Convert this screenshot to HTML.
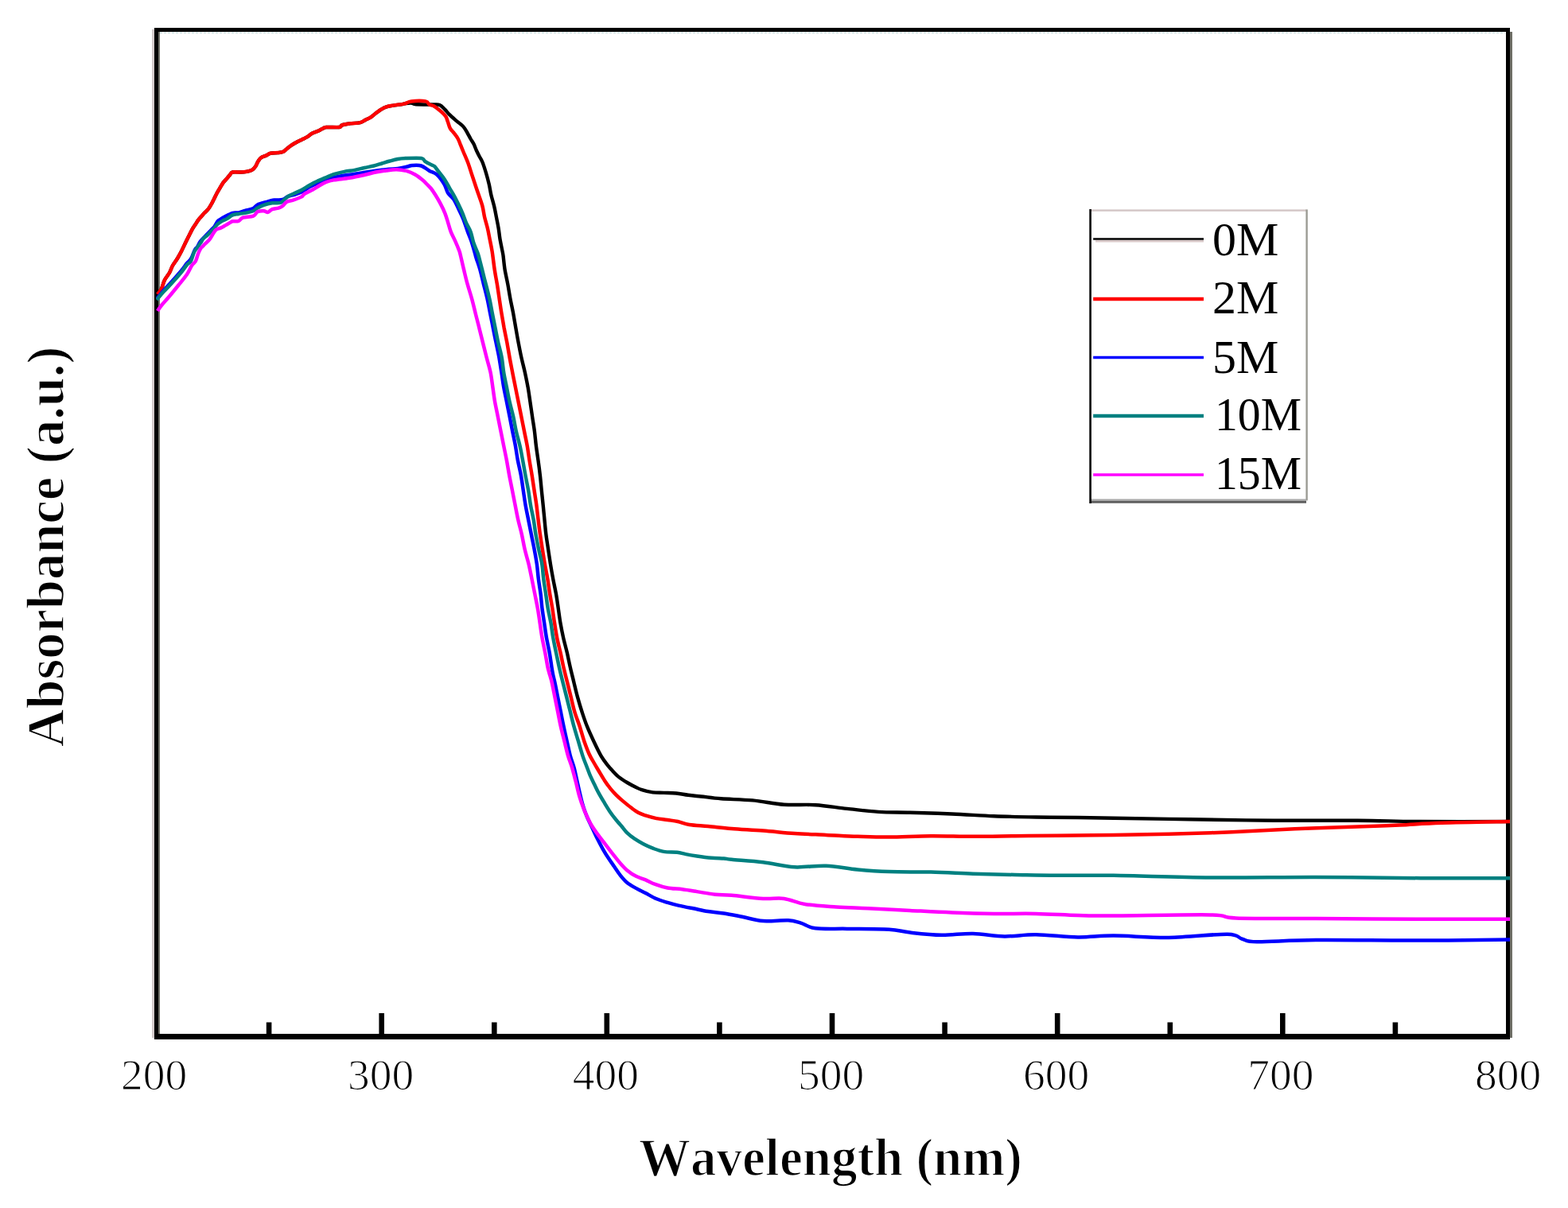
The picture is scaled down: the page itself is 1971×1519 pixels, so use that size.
<!DOCTYPE html>
<html><head><meta charset="utf-8"><title>Absorbance</title>
<style>
html,body{margin:0;padding:0;background:#fff;}
body{width:1971px;height:1519px;overflow:hidden;}
svg{display:block;}
.tick{font-family:"Liberation Serif","Times New Roman",serif;font-size:55.5px;fill:#000;stroke:#fff;stroke-width:1.2px;}
.leg{font-family:"Liberation Serif","Times New Roman",serif;font-size:60px;fill:#000;}
.title{font-family:"Liberation Serif","Times New Roman",serif;font-weight:bold;font-size:68px;fill:#000;font-kerning:none;stroke:#fff;stroke-width:1.6px;}
</style></head>
<body>
<svg width="1971" height="1519" viewBox="0 0 1971 1519">
<rect x="0" y="0" width="1971" height="1519" fill="#fff"/>
<clipPath id="plot"><rect x="196" y="40" width="1702" height="1260"/></clipPath>
<!-- frame side shading -->
<rect x="191" y="37" width="3" height="1268" fill="#d4cccc"/>
<rect x="199" y="40" width="2" height="1260" fill="#6e6e66"/>
<rect x="1898" y="40" width="3" height="1265" fill="#6e6e66"/>
<!-- frame -->
<rect x="194" y="35" width="1704" height="5" fill="#000"/>
<line x1="201" y1="41.2" x2="1892" y2="41.2" stroke="#d6e8e8" stroke-width="2" stroke-dasharray="3 2"/>
<rect x="194" y="35" width="5" height="1272" fill="#000"/>
<rect x="1893" y="35" width="5" height="1272" fill="#000"/>
<rect x="194" y="1300" width="1704" height="7" fill="#000"/>
<g clip-path="url(#plot)">
<path d="M198.0,370.0 C198.8,368.8 201.5,366.0 203.0,363.0 C204.5,360.0 205.3,355.3 207.0,352.0 C208.7,348.7 211.3,346.0 213.0,343.0 C214.7,340.0 215.3,337.0 217.0,334.0 C218.7,331.0 221.2,328.0 223.0,325.0 C224.8,322.0 226.2,319.6 228.0,316.0 C229.8,312.4 232.3,307.0 234.0,303.6 C235.7,300.2 236.6,298.3 237.9,295.7 C239.2,293.1 240.6,290.1 241.9,287.8 C243.2,285.5 244.5,283.9 245.8,281.9 C247.1,279.9 248.5,277.6 249.8,275.9 C251.1,274.2 252.5,272.9 253.7,271.5 C254.9,270.1 255.5,269.3 256.9,267.8 C258.3,266.3 260.6,264.5 262.1,262.5 C263.6,260.5 264.9,258.2 266.1,256.0 C267.3,253.8 268.3,251.6 269.4,249.4 C270.5,247.2 271.5,245.0 272.7,242.8 C273.9,240.6 275.3,238.4 276.6,236.2 C277.9,234.0 279.2,231.6 280.6,229.6 C282.0,227.6 283.8,226.1 285.2,224.4 C286.6,222.8 287.9,221.0 289.1,219.7 C290.3,218.4 290.2,217.0 292.4,216.5 C294.6,216.0 299.4,216.6 302.3,216.5 C305.2,216.4 307.6,216.2 310.0,215.8 C312.4,215.4 314.7,215.0 316.6,213.9 C318.5,212.8 319.9,211.1 321.2,209.2 C322.5,207.3 323.3,204.5 324.5,202.7 C325.7,200.8 326.6,199.3 328.4,198.1 C330.1,196.9 333.1,196.3 335.0,195.4 C336.9,194.5 337.2,193.4 339.6,192.8 C342.0,192.2 346.8,192.4 349.5,192.1 C352.2,191.8 354.2,191.7 356.1,190.8 C358.0,189.9 359.1,188.2 360.7,186.9 C362.3,185.6 364.0,184.2 366.0,182.9 C368.0,181.6 370.3,180.2 372.5,179.0 C374.7,177.8 376.9,176.8 379.1,175.7 C381.3,174.6 383.5,173.7 385.7,172.4 C387.9,171.1 390.1,169.0 392.3,167.8 C394.5,166.6 396.7,166.1 398.9,165.1 C401.1,164.1 403.6,162.7 405.5,161.8 C407.4,161.0 406.5,160.3 410.0,160.0 C413.5,159.7 423.2,160.4 426.5,160.0 C429.8,159.6 427.5,158.2 429.7,157.4 C431.9,156.6 435.8,156.0 439.6,155.4 C443.5,154.8 449.5,154.9 452.8,154.1 C456.1,153.3 457.2,151.9 459.4,150.8 C461.6,149.7 463.8,148.9 466.0,147.5 C468.2,146.1 470.3,144.0 472.5,142.3 C474.7,140.7 476.9,138.9 479.1,137.6 C481.3,136.3 482.9,135.3 485.7,134.4 C488.4,133.5 492.3,133.0 495.6,132.4 C498.9,131.8 503.1,131.5 505.5,131.1 C507.9,130.7 508.1,130.3 510.0,130.0 C511.9,129.7 515.0,129.3 517.0,129.5 C519.0,129.7 518.7,130.7 521.7,131.0 C524.7,131.3 531.1,131.4 535.0,131.5 C538.9,131.6 542.0,131.4 545.0,131.5 C548.0,131.6 550.3,131.0 552.7,132.0 C555.1,133.0 557.2,135.7 559.2,137.6 C561.2,139.5 562.3,141.4 564.5,143.6 C566.7,145.8 570.0,148.7 572.4,150.8 C574.8,152.9 577.1,154.4 579.0,156.1 C580.9,157.8 582.2,158.8 583.6,160.7 C585.0,162.6 586.3,165.0 587.6,167.3 C588.9,169.6 590.2,172.2 591.5,174.5 C592.8,176.8 594.3,178.7 595.5,181.1 C596.7,183.5 597.6,186.4 598.8,189.0 C600.0,191.6 601.2,194.0 602.5,196.5 C603.8,199.0 605.0,200.3 606.4,203.8 C607.8,207.3 609.6,213.0 611.0,217.6 C612.4,222.2 613.6,226.9 614.7,231.5 C615.8,236.1 616.3,240.7 617.4,245.3 C618.5,249.9 620.0,254.5 621.1,259.1 C622.2,263.7 623.0,268.3 623.9,272.9 C624.8,277.5 625.8,282.2 626.6,286.8 C627.4,291.4 627.7,296.0 628.5,300.6 C629.3,305.2 630.5,310.8 631.2,314.4 C631.9,318.0 632.1,318.0 632.6,322.0 C633.1,326.0 633.6,332.6 634.5,338.4 C635.4,344.2 637.1,350.8 638.2,356.9 C639.4,363.0 640.2,369.2 641.4,375.3 C642.5,381.4 644.0,387.6 645.1,393.7 C646.2,399.8 647.2,406.0 648.3,412.2 C649.4,418.4 650.4,424.3 651.6,430.6 C652.8,436.9 654.1,443.7 655.5,450.0 C656.9,456.3 658.5,462.2 659.9,468.4 C661.2,474.5 662.5,480.8 663.6,486.9 C664.7,493.0 665.5,499.2 666.4,505.3 C667.3,511.4 668.2,517.6 669.1,523.7 C670.0,529.9 671.1,536.1 671.9,542.2 C672.7,548.4 673.1,554.5 673.9,560.6 C674.7,566.7 675.6,572.7 676.5,579.0 C677.4,585.3 678.3,592.1 679.0,598.4 C679.7,604.7 680.2,610.8 680.8,616.9 C681.4,623.0 682.1,629.2 682.7,635.3 C683.3,641.4 683.9,647.6 684.5,653.7 C685.1,659.9 685.6,666.1 686.4,672.2 C687.2,678.4 688.2,684.5 689.1,690.6 C690.0,696.7 690.9,702.7 691.9,709.0 C692.9,715.3 694.1,722.1 695.3,728.4 C696.5,734.7 697.9,740.8 699.0,746.9 C700.1,753.0 700.9,759.2 701.8,765.3 C702.7,771.4 703.4,777.6 704.5,783.7 C705.6,789.9 706.8,796.1 708.2,802.2 C709.6,808.4 711.4,814.5 712.8,820.6 C714.2,826.7 715.3,832.7 716.8,839.0 C718.2,845.3 720.0,852.1 721.5,858.4 C723.0,864.7 724.4,870.8 726.1,876.9 C727.8,883.0 729.6,889.2 731.6,895.3 C733.6,901.4 735.6,907.6 738.1,913.7 C740.6,919.9 743.5,926.1 746.4,932.2 C749.3,938.4 752.8,945.7 755.6,950.6 C758.5,955.5 761.1,958.7 763.5,961.8 C765.9,964.9 767.6,966.7 769.9,969.2 C772.2,971.7 774.2,974.1 777.3,976.6 C780.4,979.1 784.8,981.9 788.3,984.0 C791.8,986.1 795.4,988.0 798.5,989.5 C801.6,991.0 803.1,992.1 806.8,993.2 C810.5,994.4 816.0,995.8 820.6,996.4 C825.2,997.0 829.5,996.7 834.4,996.9 C839.3,997.1 844.9,997.0 850.0,997.5 C855.1,998.0 859.8,999.1 865.0,999.8 C870.2,1000.5 874.1,1000.8 881.0,1001.5 C887.9,1002.2 895.6,1003.5 906.4,1004.3 C917.2,1005.1 932.8,1005.2 946.0,1006.4 C959.2,1007.6 972.3,1010.7 985.5,1011.7 C998.7,1012.7 1011.9,1011.3 1025.1,1012.2 C1038.3,1013.1 1051.5,1015.5 1064.7,1016.9 C1077.9,1018.3 1091.1,1020.1 1104.3,1020.9 C1117.5,1021.7 1128.5,1021.3 1143.9,1021.7 C1159.3,1022.1 1179.0,1022.8 1196.6,1023.5 C1214.2,1024.2 1231.8,1025.5 1249.4,1026.2 C1267.0,1026.9 1284.6,1027.2 1302.2,1027.5 C1319.8,1027.8 1338.6,1027.8 1354.9,1028.0 C1371.2,1028.2 1376.6,1028.4 1400.0,1028.8 C1423.4,1029.2 1462.0,1029.8 1495.5,1030.3 C1529.0,1030.8 1565.8,1031.5 1601.0,1031.7 C1636.2,1031.9 1675.8,1031.5 1706.6,1031.7 C1737.4,1031.9 1753.7,1032.8 1785.8,1033.0 C1817.9,1033.2 1880.1,1033.0 1899.0,1033.0" fill="none" stroke="#000000" stroke-width="4.4" stroke-linejoin="round" stroke-linecap="butt"/>
<path d="M198.0,370.0 C198.8,368.8 201.5,366.0 203.0,363.0 C204.5,360.0 205.3,355.3 207.0,352.0 C208.7,348.7 211.3,346.0 213.0,343.0 C214.7,340.0 215.3,337.0 217.0,334.0 C218.7,331.0 221.2,328.0 223.0,325.0 C224.8,322.0 226.2,319.6 228.0,316.0 C229.8,312.4 232.3,307.0 234.0,303.6 C235.7,300.2 236.6,298.3 237.9,295.7 C239.2,293.1 240.6,290.1 241.9,287.8 C243.2,285.5 244.5,283.9 245.8,281.9 C247.1,279.9 248.5,277.6 249.8,275.9 C251.1,274.2 252.5,272.9 253.7,271.5 C254.9,270.1 255.5,269.3 256.9,267.8 C258.3,266.3 260.6,264.5 262.1,262.5 C263.6,260.5 264.9,258.2 266.1,256.0 C267.3,253.8 268.3,251.6 269.4,249.4 C270.5,247.2 271.5,245.0 272.7,242.8 C273.9,240.6 275.3,238.4 276.6,236.2 C277.9,234.0 279.2,231.6 280.6,229.6 C282.0,227.6 283.8,226.1 285.2,224.4 C286.6,222.8 287.9,221.0 289.1,219.7 C290.3,218.4 290.2,217.0 292.4,216.5 C294.6,216.0 299.4,216.6 302.3,216.5 C305.2,216.4 307.6,216.2 310.0,215.8 C312.4,215.4 314.7,215.0 316.6,213.9 C318.5,212.8 319.9,211.1 321.2,209.2 C322.5,207.3 323.3,204.5 324.5,202.7 C325.7,200.8 326.6,199.3 328.4,198.1 C330.1,196.9 333.1,196.3 335.0,195.4 C336.9,194.5 337.2,193.4 339.6,192.8 C342.0,192.2 346.8,192.4 349.5,192.1 C352.2,191.8 354.2,191.7 356.1,190.8 C358.0,189.9 359.1,188.2 360.7,186.9 C362.3,185.6 364.0,184.2 366.0,182.9 C368.0,181.6 370.3,180.2 372.5,179.0 C374.7,177.8 376.9,176.8 379.1,175.7 C381.3,174.6 383.5,173.7 385.7,172.4 C387.9,171.1 390.1,169.0 392.3,167.8 C394.5,166.6 396.7,166.1 398.9,165.1 C401.1,164.1 403.6,162.7 405.5,161.8 C407.4,161.0 406.5,160.3 410.0,160.0 C413.5,159.7 423.2,160.4 426.5,160.0 C429.8,159.6 427.5,158.2 429.7,157.4 C431.9,156.6 435.8,156.0 439.6,155.4 C443.5,154.8 449.5,154.9 452.8,154.1 C456.1,153.3 457.2,151.9 459.4,150.8 C461.6,149.7 463.8,148.9 466.0,147.5 C468.2,146.1 470.3,144.0 472.5,142.3 C474.7,140.7 476.9,138.9 479.1,137.6 C481.3,136.3 482.9,135.3 485.7,134.4 C488.4,133.5 492.3,133.0 495.6,132.4 C498.9,131.8 503.1,131.5 505.5,131.1 C507.9,130.7 508.1,130.6 510.0,130.0 C511.9,129.4 512.8,127.8 517.0,127.4 C521.2,127.0 531.2,126.8 535.0,127.4 C538.8,128.0 537.7,130.1 539.5,131.2 C541.3,132.2 544.0,132.6 546.0,133.7 C548.0,134.8 549.6,136.3 551.3,137.6 C553.0,138.9 554.5,140.0 556.0,141.6 C557.5,143.2 559.5,145.0 560.6,146.9 C561.7,148.8 561.9,150.4 562.8,152.8 C563.7,155.2 564.4,158.9 565.8,161.4 C567.2,163.9 569.5,165.7 571.1,167.9 C572.8,170.1 574.4,172.1 575.7,174.5 C577.0,176.9 577.9,179.7 579.0,182.4 C580.1,185.1 580.8,186.9 582.3,190.5 C583.8,194.1 586.2,199.3 587.9,203.8 C589.6,208.3 591.0,213.0 592.5,217.6 C594.0,222.2 595.6,226.9 597.1,231.5 C598.6,236.1 600.2,240.7 601.8,245.3 C603.3,249.9 605.2,254.5 606.4,259.1 C607.6,263.7 608.0,268.3 609.1,272.9 C610.2,277.5 611.7,282.2 612.8,286.8 C613.9,291.4 614.6,295.7 615.6,300.6 C616.6,305.5 617.6,309.7 618.6,316.0 C619.6,322.3 620.6,331.6 621.6,338.4 C622.6,345.2 623.8,350.8 624.8,356.9 C625.8,363.0 626.7,369.2 627.6,375.3 C628.5,381.4 629.4,387.6 630.4,393.7 C631.4,399.8 632.5,406.0 633.6,412.2 C634.8,418.4 636.1,424.5 637.3,430.6 C638.4,436.7 639.4,442.7 640.5,449.0 C641.6,455.3 643.0,462.1 644.2,468.4 C645.4,474.7 646.7,480.8 647.9,486.9 C649.1,493.0 650.4,499.2 651.6,505.3 C652.8,511.4 654.1,517.6 655.3,523.7 C656.5,529.9 657.8,536.1 659.0,542.2 C660.2,548.4 661.6,554.5 662.7,560.6 C663.8,566.7 664.5,572.7 665.5,579.0 C666.5,585.3 667.8,592.1 668.8,598.4 C669.8,604.7 670.7,610.8 671.6,616.9 C672.5,623.0 673.6,629.2 674.4,635.3 C675.2,641.4 675.8,647.6 676.6,653.7 C677.4,659.9 678.1,666.1 679.0,672.2 C679.9,678.4 680.8,684.5 681.8,690.6 C682.8,696.7 683.7,702.7 684.8,709.0 C685.9,715.3 687.3,722.1 688.4,728.4 C689.5,734.7 690.2,740.8 691.2,746.9 C692.2,753.0 693.4,759.2 694.4,765.3 C695.4,771.4 696.1,777.6 697.1,783.7 C698.1,789.9 699.0,796.1 700.2,802.2 C701.4,808.4 703.1,814.5 704.5,820.6 C705.9,826.7 706.9,832.7 708.4,839.0 C709.9,845.3 711.6,852.1 713.2,858.4 C714.8,864.7 716.3,870.8 717.8,876.9 C719.3,883.0 720.6,889.2 722.4,895.3 C724.2,901.4 726.8,907.6 728.8,913.7 C730.8,919.9 732.4,926.5 734.4,932.2 C736.4,937.9 738.5,943.5 740.5,948.0 C742.5,952.5 744.4,955.3 746.5,959.0 C748.6,962.7 750.8,966.3 753.0,970.0 C755.2,973.7 757.4,977.7 759.8,981.2 C762.1,984.8 764.6,988.2 767.1,991.3 C769.6,994.4 771.7,996.8 774.5,999.6 C777.3,1002.4 780.6,1005.3 783.7,1007.9 C786.8,1010.5 789.8,1013.0 792.9,1015.3 C796.0,1017.6 799.1,1020.1 802.2,1021.8 C805.3,1023.5 807.6,1024.2 811.4,1025.4 C815.2,1026.6 820.6,1028.2 825.2,1029.1 C829.8,1030.0 834.5,1030.3 839.0,1031.0 C843.5,1031.7 847.4,1032.0 852.0,1033.0 C856.6,1034.0 860.2,1036.0 866.5,1037.0 C872.8,1038.0 881.1,1038.2 890.0,1039.0 C898.9,1039.8 908.1,1041.1 919.6,1042.0 C931.1,1042.9 946.0,1043.6 959.2,1044.6 C972.4,1045.6 985.5,1047.2 998.7,1048.1 C1011.9,1049.0 1025.1,1049.3 1038.3,1049.9 C1051.5,1050.5 1064.7,1051.3 1077.9,1051.8 C1091.1,1052.2 1102.1,1052.7 1117.5,1052.6 C1132.9,1052.5 1152.6,1051.3 1170.2,1051.2 C1187.8,1051.1 1205.4,1051.8 1223.0,1051.8 C1240.6,1051.8 1258.2,1051.4 1275.8,1051.2 C1293.4,1051.0 1307.8,1050.9 1328.5,1050.7 C1349.2,1050.5 1376.5,1050.2 1400.0,1049.9 C1423.5,1049.6 1444.5,1049.4 1469.2,1048.8 C1493.9,1048.2 1521.9,1047.3 1548.3,1046.2 C1574.7,1045.1 1601.1,1043.3 1627.5,1042.2 C1653.9,1041.1 1684.6,1040.4 1706.6,1039.6 C1728.6,1038.8 1741.8,1038.3 1759.4,1037.5 C1777.0,1036.7 1788.9,1035.5 1812.2,1034.8 C1835.5,1034.0 1884.5,1033.3 1899.0,1033.0" fill="none" stroke="#ff0000" stroke-width="4.5" stroke-linejoin="round" stroke-linecap="butt"/>
<path d="M197.0,376.0 C198.4,374.2 202.3,369.2 205.5,365.5 C208.7,361.8 212.4,358.0 216.0,354.0 C219.6,350.0 223.8,345.3 227.0,341.5 C230.2,337.7 232.8,333.7 235.0,331.0 C237.2,328.3 238.3,328.3 240.0,325.5 C241.7,322.7 243.7,316.5 245.0,314.0 C246.3,311.5 246.9,312.2 248.0,310.5 C249.1,308.8 250.4,305.7 251.7,303.8 C253.0,301.9 254.5,300.6 256.0,299.0 C257.5,297.4 259.2,295.7 260.8,294.0 C262.4,292.3 264.2,290.5 265.6,289.0 C267.1,287.5 268.2,286.8 269.5,285.0 C270.8,283.2 272.4,279.9 273.5,278.5 C274.6,277.1 274.5,277.4 276.0,276.4 C277.5,275.4 279.8,273.8 282.5,272.4 C285.2,271.0 289.5,268.6 292.4,267.8 C295.3,267.0 297.4,267.9 300.0,267.4 C302.6,266.9 304.8,265.7 307.9,264.8 C311.0,263.9 315.8,263.3 318.4,262.1 C321.0,260.9 321.1,258.7 323.7,257.4 C326.3,256.1 330.7,255.2 334.2,254.2 C337.7,253.2 341.3,252.1 344.8,251.6 C348.3,251.1 352.4,251.8 355.3,251.0 C358.2,250.2 359.4,248.1 362.0,247.0 C364.6,245.9 368.0,245.5 371.0,244.5 C374.0,243.5 377.0,242.6 380.0,241.0 C383.0,239.4 385.7,236.8 389.0,235.0 C392.3,233.2 394.6,232.3 399.7,230.3 C404.8,228.3 411.9,225.0 419.5,223.1 C427.1,221.2 438.2,220.1 445.0,219.0 C451.8,217.9 453.3,217.5 460.0,216.5 C466.7,215.5 478.3,213.9 485.0,213.2 C491.7,212.4 495.5,212.6 500.0,212.0 C504.5,211.4 509.0,210.2 512.0,209.5 C515.0,208.8 515.3,208.2 518.2,208.0 C521.1,207.8 526.0,207.3 529.6,208.5 C533.2,209.7 536.7,213.1 540.0,214.9 C543.3,216.7 546.1,216.7 549.2,219.5 C552.3,222.3 556.1,227.7 558.4,231.5 C560.7,235.3 561.0,239.3 563.0,242.5 C565.0,245.7 568.1,247.3 570.4,250.8 C572.7,254.3 574.9,259.6 576.9,263.7 C578.9,267.8 580.6,271.1 582.4,275.7 C584.2,280.3 586.2,286.8 587.9,291.4 C589.6,296.0 591.0,298.8 592.5,303.4 C594.0,308.0 596.1,315.4 597.1,319.0 C598.1,322.6 597.8,321.8 598.8,325.0 C599.8,328.2 601.7,333.1 603.2,338.4 C604.7,343.7 606.3,350.8 607.8,356.9 C609.3,363.0 611.0,369.2 612.4,375.3 C613.8,381.4 614.9,387.6 616.1,393.7 C617.3,399.8 618.6,406.0 619.8,412.2 C621.0,418.4 622.2,424.5 623.5,430.6 C624.8,436.7 626.1,442.7 627.3,449.0 C628.4,455.3 629.4,462.1 630.4,468.4 C631.4,474.7 632.1,480.8 633.2,486.9 C634.3,493.0 635.7,499.2 636.9,505.3 C638.1,511.4 639.4,517.6 640.6,523.7 C641.8,529.9 643.0,536.1 644.2,542.2 C645.4,548.4 646.8,554.5 647.9,560.6 C649.0,566.7 649.7,572.7 650.9,579.0 C652.1,585.3 653.9,592.1 655.0,598.4 C656.1,604.7 656.9,610.8 657.8,616.9 C658.7,623.0 659.5,629.2 660.6,635.3 C661.7,641.4 663.0,647.6 664.2,653.7 C665.4,659.9 666.7,666.1 667.9,672.2 C669.1,678.4 670.5,684.5 671.6,690.6 C672.8,696.7 673.9,702.7 674.8,709.0 C675.7,715.3 676.1,722.1 676.9,728.4 C677.7,734.7 678.8,740.8 679.6,746.9 C680.4,753.0 680.7,759.2 681.5,765.3 C682.3,771.4 683.3,777.6 684.2,783.7 C685.1,789.9 685.9,796.1 687.0,802.2 C688.1,808.4 689.6,814.5 690.7,820.6 C691.8,826.7 692.7,834.1 693.5,839.0 C694.3,843.9 694.8,846.8 695.5,850.0 C696.2,853.2 696.5,853.9 697.5,858.4 C698.5,862.9 700.0,870.8 701.2,876.9 C702.4,883.0 703.7,889.2 704.9,895.3 C706.1,901.4 707.3,907.6 708.6,913.7 C709.9,919.9 711.3,926.1 712.7,932.2 C714.1,938.4 715.4,945.0 716.9,950.6 C718.4,956.2 720.2,959.8 721.8,966.0 C723.4,972.2 724.9,980.1 726.6,987.6 C728.3,995.1 730.3,1004.2 732.1,1010.7 C733.9,1017.2 735.6,1021.5 737.6,1026.4 C739.6,1031.3 741.9,1035.6 744.1,1040.2 C746.3,1044.8 748.3,1049.4 750.6,1054.0 C752.9,1058.6 755.5,1063.5 757.9,1067.8 C760.3,1072.1 762.9,1076.2 765.3,1079.8 C767.6,1083.4 769.7,1086.2 772.0,1089.5 C774.3,1092.8 776.5,1096.5 779.2,1099.9 C781.9,1103.3 784.9,1107.1 788.4,1110.0 C791.9,1112.9 796.5,1115.2 800.4,1117.4 C804.2,1119.6 807.4,1120.8 811.5,1123.0 C815.6,1125.2 820.7,1128.3 825.3,1130.3 C829.9,1132.3 834.5,1133.5 839.1,1134.9 C843.7,1136.3 847.5,1137.4 852.9,1138.6 C858.3,1139.8 865.2,1141.1 871.4,1142.3 C877.5,1143.5 883.4,1145.0 889.8,1146.0 C896.2,1147.0 902.8,1147.4 910.0,1148.5 C917.2,1149.6 924.6,1151.2 932.8,1152.8 C941.0,1154.4 949.5,1157.3 959.2,1158.1 C968.9,1158.8 982.9,1156.9 990.8,1157.3 C998.7,1157.7 1000.9,1159.0 1006.6,1160.7 C1012.3,1162.4 1015.4,1166.1 1025.1,1167.3 C1034.8,1168.5 1049.3,1167.7 1064.7,1167.9 C1080.1,1168.1 1104.3,1167.9 1117.5,1168.7 C1130.7,1169.5 1132.9,1171.4 1143.9,1172.6 C1154.9,1173.8 1170.2,1175.6 1183.4,1175.8 C1196.6,1176.0 1209.8,1173.6 1223.0,1173.9 C1236.2,1174.2 1249.4,1177.2 1262.6,1177.4 C1275.8,1177.6 1286.8,1175.1 1302.2,1175.3 C1317.6,1175.5 1338.6,1178.2 1354.9,1178.4 C1371.2,1178.6 1381.0,1176.5 1400.0,1176.6 C1419.0,1176.7 1445.4,1179.2 1469.2,1178.9 C1493.0,1178.6 1527.6,1174.4 1543.0,1174.7 C1558.4,1175.0 1555.3,1179.1 1561.5,1180.7 C1567.7,1182.3 1564.6,1184.0 1580.0,1184.2 C1595.4,1184.4 1619.6,1182.4 1653.9,1182.1 C1688.2,1181.8 1745.0,1182.7 1785.8,1182.6 C1826.6,1182.5 1880.1,1181.7 1899.0,1181.5" fill="none" stroke="#0000ff" stroke-width="4.5" stroke-linejoin="round" stroke-linecap="butt"/>
<path d="M197.0,377.0 C198.4,375.3 202.3,370.5 205.5,367.0 C208.7,363.5 212.4,359.9 216.0,356.0 C219.6,352.1 223.8,347.3 227.0,343.5 C230.2,339.7 232.8,335.5 235.0,333.0 C237.2,330.5 238.4,331.1 239.9,328.5 C241.4,325.9 242.5,320.2 243.8,317.4 C245.1,314.6 246.4,313.5 247.8,311.5 C249.2,309.5 250.8,307.5 252.1,305.6 C253.4,303.7 254.2,301.6 255.7,300.0 C257.1,298.4 259.1,297.3 260.8,295.7 C262.5,294.1 264.2,292.1 265.6,290.6 C267.1,289.1 268.2,288.1 269.5,286.6 C270.8,285.2 271.9,283.3 273.5,281.9 C275.1,280.4 277.4,279.0 279.4,277.9 C281.4,276.8 283.1,276.4 285.3,275.1 C287.5,273.9 289.9,271.4 292.4,270.4 C294.8,269.4 297.0,269.5 300.0,269.0 C303.0,268.5 307.4,268.0 310.5,267.4 C313.6,266.8 316.2,266.3 318.4,265.3 C320.6,264.3 321.5,262.8 323.7,261.6 C325.9,260.4 328.5,258.9 331.6,257.9 C334.7,256.8 338.6,255.8 342.1,255.3 C345.6,254.8 350.1,255.6 352.7,254.8 C355.3,254.0 356.1,251.9 357.9,250.5 C359.6,249.1 361.0,247.6 363.2,246.3 C365.4,245.0 368.5,243.8 371.1,242.6 C373.7,241.4 376.0,240.6 379.0,239.0 C382.0,237.4 385.7,234.9 389.0,233.0 C392.3,231.1 395.6,229.2 398.9,227.7 C402.2,226.1 405.3,225.1 408.7,223.7 C412.1,222.3 415.5,220.5 419.5,219.2 C423.5,217.9 428.3,216.8 432.7,215.9 C437.1,215.0 441.6,214.7 445.8,213.9 C450.0,213.1 454.0,211.9 458.0,211.0 C462.0,210.1 466.3,209.4 470.0,208.5 C473.7,207.6 476.7,206.5 480.0,205.5 C483.3,204.5 486.7,203.4 490.0,202.5 C493.3,201.6 496.7,200.6 500.0,200.0 C503.3,199.4 505.1,199.2 510.0,199.0 C514.9,198.8 525.6,198.3 529.6,198.9 C533.6,199.5 532.3,201.5 534.2,202.8 C536.1,204.1 538.8,205.6 540.8,206.6 C542.8,207.6 544.6,207.9 546.0,209.0 C547.4,210.1 547.1,210.3 549.2,213.0 C551.3,215.7 555.8,221.2 558.4,225.0 C561.0,228.8 562.8,232.4 564.9,236.1 C567.0,239.8 569.3,243.4 571.3,247.1 C573.3,250.8 575.2,254.7 576.9,258.2 C578.6,261.7 580.0,264.6 581.5,268.3 C583.0,272.0 584.4,276.5 586.1,280.3 C587.8,284.1 590.1,287.2 591.6,291.4 C593.1,295.5 593.8,300.6 595.3,305.2 C596.8,309.8 599.4,314.9 600.8,319.0 C602.2,323.1 602.9,326.8 603.8,330.0 C604.6,333.2 604.8,333.9 605.9,338.4 C607.0,342.9 609.0,350.8 610.6,356.9 C612.2,363.0 613.8,369.2 615.2,375.3 C616.6,381.4 617.6,387.6 618.8,393.7 C620.0,399.8 621.3,406.0 622.5,412.2 C623.7,418.4 624.9,424.5 626.2,430.6 C627.6,436.7 629.4,442.7 630.6,449.0 C631.8,455.3 632.2,462.1 633.2,468.4 C634.2,474.7 635.7,480.8 636.9,486.9 C638.1,493.0 639.2,499.2 640.6,505.3 C642.0,511.4 643.8,517.6 645.2,523.7 C646.6,529.9 647.4,536.1 648.8,542.2 C650.2,548.4 652.1,554.5 653.5,560.6 C654.9,566.7 655.9,572.7 657.1,579.0 C658.3,585.3 659.4,592.1 660.6,598.4 C661.8,604.7 663.1,610.8 664.2,616.9 C665.3,623.0 665.9,629.2 667.0,635.3 C668.1,641.4 669.6,647.6 670.7,653.7 C671.8,659.9 672.4,666.1 673.5,672.2 C674.6,678.4 675.8,684.5 677.1,690.6 C678.4,696.7 680.2,702.7 681.2,709.0 C682.2,715.3 682.5,722.1 683.3,728.4 C684.1,734.7 685.2,740.8 686.1,746.9 C687.0,753.0 687.7,759.2 688.8,765.3 C689.9,771.4 691.4,777.6 692.5,783.7 C693.6,789.9 694.2,796.1 695.3,802.2 C696.4,808.4 697.7,814.5 699.0,820.6 C700.3,826.7 701.5,832.7 702.9,839.0 C704.3,845.3 706.0,852.1 707.6,858.4 C709.2,864.7 710.8,870.8 712.3,876.9 C713.8,883.0 715.4,889.2 716.9,895.3 C718.4,901.4 719.8,907.6 721.5,913.7 C723.2,919.9 725.2,926.1 727.0,932.2 C728.8,938.4 730.9,945.7 732.5,950.6 C734.1,955.5 735.2,957.9 736.7,961.8 C738.2,965.7 739.6,969.8 741.3,973.8 C743.0,977.8 745.0,981.9 746.9,985.8 C748.8,989.6 750.4,993.2 752.4,996.9 C754.4,1000.6 756.5,1004.1 758.8,1007.9 C761.1,1011.7 763.6,1016.0 766.2,1019.9 C768.8,1023.8 772.0,1027.9 774.5,1031.0 C777.0,1034.1 778.7,1035.8 781.0,1038.5 C783.3,1041.2 785.6,1044.7 788.4,1047.4 C791.2,1050.1 794.2,1052.4 797.6,1054.7 C801.0,1057.0 804.9,1059.2 808.7,1061.2 C812.6,1063.2 816.4,1065.1 820.7,1066.7 C825.0,1068.3 829.4,1070.1 834.5,1070.9 C839.6,1071.8 846.5,1071.3 851.1,1071.8 C855.7,1072.3 858.1,1073.3 862.2,1074.1 C866.4,1074.9 870.6,1075.6 876.0,1076.4 C881.4,1077.2 888.7,1078.2 894.4,1078.7 C900.1,1079.2 905.8,1079.2 910.0,1079.5 C914.2,1079.8 911.4,1080.0 919.6,1080.8 C927.8,1081.6 946.0,1082.6 959.2,1084.2 C972.4,1085.8 985.5,1089.5 998.7,1090.3 C1011.9,1091.0 1025.1,1088.2 1038.3,1088.7 C1051.5,1089.2 1064.7,1092.3 1077.9,1093.5 C1091.1,1094.7 1102.1,1095.6 1117.5,1096.1 C1132.9,1096.6 1152.6,1096.2 1170.2,1096.6 C1187.8,1097.0 1205.4,1098.1 1223.0,1098.7 C1240.6,1099.3 1258.2,1099.7 1275.8,1100.0 C1293.4,1100.3 1307.8,1100.7 1328.5,1100.8 C1349.2,1100.9 1367.8,1100.4 1400.0,1100.8 C1432.2,1101.2 1479.6,1103.1 1521.9,1103.4 C1564.2,1103.8 1609.9,1102.8 1653.9,1102.9 C1697.9,1103.0 1745.0,1104.0 1785.8,1104.2 C1826.6,1104.4 1880.1,1104.2 1899.0,1104.2" fill="none" stroke="#008080" stroke-width="4.5" stroke-linejoin="round" stroke-linecap="butt"/>
<path d="M198.0,391.0 C198.8,389.8 200.5,387.1 203.0,384.0 C205.5,380.9 209.5,376.7 213.0,372.5 C216.5,368.3 220.3,363.6 224.0,359.0 C227.7,354.4 232.2,349.2 235.0,345.0 C237.8,340.8 239.2,336.8 241.0,334.0 C242.8,331.2 244.5,330.9 245.8,328.5 C247.1,326.1 247.9,322.0 249.0,319.4 C250.1,316.8 250.7,314.8 252.1,312.7 C253.5,310.6 255.8,308.8 257.7,306.8 C259.6,304.8 262.0,302.9 263.6,300.8 C265.2,298.8 266.2,296.5 267.5,294.5 C268.8,292.5 269.9,290.3 271.5,289.0 C273.1,287.7 275.4,287.5 277.4,286.6 C279.4,285.7 281.4,284.5 283.4,283.4 C285.4,282.3 287.8,280.8 289.3,279.9 C290.8,279.0 290.6,278.6 292.4,278.3 C294.2,278.0 297.9,278.7 300.0,277.9 C302.1,277.1 302.2,274.8 305.3,273.7 C308.4,272.6 315.3,272.8 318.4,271.6 C321.5,270.4 321.5,267.4 323.7,266.3 C325.9,265.2 329.4,265.2 331.6,265.3 C333.8,265.4 335.1,267.2 336.9,266.9 C338.6,266.5 339.9,264.1 342.1,263.2 C344.3,262.3 347.8,262.3 350.0,261.6 C352.2,260.9 353.5,260.3 355.3,259.0 C357.1,257.7 358.4,254.9 360.6,253.7 C362.8,252.5 365.4,252.6 368.5,251.6 C371.6,250.6 376.7,248.7 379.0,247.4 C381.3,246.2 380.2,245.5 382.4,244.1 C384.6,242.7 389.0,240.8 392.3,238.9 C395.6,237.1 399.2,234.7 402.2,233.0 C405.1,231.3 407.1,230.1 410.0,229.0 C412.9,227.9 414.6,227.3 419.5,226.4 C424.4,225.5 432.6,224.9 439.2,223.8 C445.8,222.7 453.5,221.0 459.0,219.8 C464.5,218.6 467.8,217.4 472.2,216.5 C476.6,215.6 480.9,215.1 485.3,214.5 C489.7,213.9 494.1,213.1 498.5,213.2 C502.9,213.3 507.8,214.1 511.7,215.2 C515.6,216.3 518.9,217.9 522.2,219.8 C525.5,221.7 529.0,224.5 531.4,226.4 C533.8,228.3 534.8,229.7 536.5,231.5 C538.2,233.3 540.0,234.7 541.8,237.0 C543.6,239.3 545.4,242.1 547.4,245.3 C549.4,248.5 551.8,252.6 553.8,256.4 C555.8,260.2 557.9,264.5 559.4,268.3 C560.9,272.1 561.8,275.5 563.0,279.4 C564.2,283.2 565.2,287.4 566.7,291.4 C568.2,295.4 570.6,299.6 572.3,303.4 C574.0,307.2 575.8,311.6 576.9,314.4 C578.0,317.2 577.6,316.0 578.6,320.0 C579.6,324.0 581.4,332.2 582.9,338.4 C584.4,344.5 585.8,350.8 587.5,356.9 C589.2,363.0 591.3,369.2 593.0,375.3 C594.7,381.4 596.1,387.6 597.6,393.7 C599.1,399.8 600.8,406.0 602.3,412.2 C603.8,418.4 605.4,424.5 606.9,430.6 C608.4,436.7 609.9,442.7 611.5,449.0 C613.1,455.3 615.3,462.1 616.6,468.4 C617.9,474.7 618.5,480.8 619.4,486.9 C620.3,493.0 621.0,499.2 622.1,505.3 C623.2,511.4 624.6,517.6 625.8,523.7 C627.0,529.9 628.3,536.1 629.5,542.2 C630.7,548.4 632.0,554.5 633.2,560.6 C634.4,566.7 635.7,572.7 636.9,579.0 C638.1,585.3 639.1,592.1 640.3,598.4 C641.5,604.7 642.8,610.8 644.0,616.9 C645.2,623.0 646.4,629.2 647.6,635.3 C648.8,641.4 649.9,647.6 651.3,653.7 C652.7,659.9 654.5,666.1 655.9,672.2 C657.3,678.4 658.2,684.5 659.6,690.6 C661.0,696.7 663.0,702.7 664.5,709.0 C666.0,715.3 667.3,722.1 668.6,728.4 C669.9,734.7 671.1,740.8 672.3,746.9 C673.5,753.0 674.8,759.2 675.9,765.3 C677.0,771.4 677.8,777.6 678.7,783.7 C679.6,789.9 680.4,796.1 681.5,802.2 C682.6,808.4 684.0,814.5 685.2,820.6 C686.4,826.7 687.5,834.1 688.5,839.0 C689.5,843.9 690.6,846.8 691.5,850.0 C692.4,853.2 692.8,853.9 693.8,858.4 C694.8,862.9 696.3,870.8 697.5,876.9 C698.7,883.0 700.0,889.2 701.2,895.3 C702.4,901.4 703.5,907.6 704.9,913.7 C706.3,919.9 708.0,926.1 709.5,932.2 C711.0,938.4 712.5,945.1 714.1,950.6 C715.7,956.1 717.4,959.6 719.0,965.0 C720.6,970.4 722.2,976.9 723.8,983.0 C725.4,989.1 726.5,995.4 728.4,1001.5 C730.2,1007.6 732.6,1014.2 734.9,1019.9 C737.2,1025.6 739.5,1030.7 742.3,1035.6 C745.1,1040.5 748.4,1045.1 751.5,1049.4 C754.6,1053.7 757.6,1057.4 760.7,1061.4 C763.8,1065.4 766.8,1069.5 769.9,1073.4 C773.0,1077.3 776.1,1081.5 779.2,1085.0 C782.3,1088.5 785.0,1091.6 788.4,1094.4 C791.8,1097.2 795.6,1099.8 799.5,1101.8 C803.4,1103.8 807.5,1104.7 811.5,1106.4 C815.5,1108.1 818.9,1110.2 823.5,1111.9 C828.1,1113.6 833.4,1115.4 839.1,1116.5 C844.8,1117.6 851.5,1117.5 857.6,1118.3 C863.8,1119.1 869.1,1120.0 876.0,1121.1 C882.9,1122.2 891.7,1124.0 899.0,1124.8 C906.3,1125.6 909.6,1124.9 919.6,1125.8 C929.6,1126.7 948.2,1129.2 959.2,1129.9 C970.2,1130.6 976.7,1128.7 985.5,1129.9 C994.3,1131.1 1000.9,1135.2 1011.9,1137.0 C1022.9,1138.8 1038.3,1139.5 1051.5,1140.4 C1064.7,1141.3 1075.7,1141.5 1091.1,1142.3 C1106.5,1143.0 1126.3,1144.0 1143.9,1144.9 C1161.5,1145.8 1179.0,1146.8 1196.6,1147.5 C1214.2,1148.2 1231.8,1148.7 1249.4,1148.9 C1267.0,1149.1 1284.6,1148.6 1302.2,1148.9 C1319.8,1149.2 1338.6,1150.6 1354.9,1151.0 C1371.2,1151.4 1372.2,1151.6 1400.0,1151.5 C1427.8,1151.4 1496.3,1149.9 1521.9,1150.4 C1547.5,1150.9 1531.6,1153.6 1553.6,1154.4 C1575.6,1155.2 1615.2,1154.9 1653.9,1155.1 C1692.6,1155.3 1745.0,1155.6 1785.8,1155.7 C1826.6,1155.8 1880.1,1155.7 1899.0,1155.7" fill="none" stroke="#ff00ff" stroke-width="4.5" stroke-linejoin="round" stroke-linecap="butt"/>

</g>
<rect x="334.8" y="1285.5" width="6.6" height="16.5" fill="#000"/>
<rect x="476.4" y="1274.0" width="6.6" height="28.0" fill="#000"/>
<rect x="618.0" y="1285.5" width="6.6" height="16.5" fill="#000"/>
<rect x="759.5" y="1274.0" width="6.6" height="28.0" fill="#000"/>
<rect x="901.1" y="1285.5" width="6.6" height="16.5" fill="#000"/>
<rect x="1042.7" y="1274.0" width="6.6" height="28.0" fill="#000"/>
<rect x="1184.3" y="1285.5" width="6.6" height="16.5" fill="#000"/>
<rect x="1325.9" y="1274.0" width="6.6" height="28.0" fill="#000"/>
<rect x="1467.5" y="1285.5" width="6.6" height="16.5" fill="#000"/>
<rect x="1609.0" y="1274.0" width="6.6" height="28.0" fill="#000"/>
<rect x="1750.6" y="1285.5" width="6.6" height="16.5" fill="#000"/>

<text x="193.5" y="1370" text-anchor="middle" class="tick">200</text>
<text x="478.7" y="1370" text-anchor="middle" class="tick">300</text>
<text x="761.3" y="1370" text-anchor="middle" class="tick">400</text>
<text x="1044.5" y="1370" text-anchor="middle" class="tick">500</text>
<text x="1327.7" y="1370" text-anchor="middle" class="tick">600</text>
<text x="1609.8" y="1370" text-anchor="middle" class="tick">700</text>
<text x="1895.5" y="1370" text-anchor="middle" class="tick">800</text>

<!-- legend -->
<rect x="1371.5" y="265" width="270" height="363" fill="#fff"/>
<rect x="1371" y="263.4" width="271" height="2.4" fill="#d3c6c6"/>
<rect x="1641.4" y="263.4" width="2.4" height="366" fill="#9c9c94"/>
<rect x="1371" y="627.5" width="271" height="2.5" fill="#a8a8a8"/>
<rect x="1371" y="630" width="271" height="2.7" fill="#5c5c5c"/>
<rect x="1369.3" y="263" width="2.6" height="370" fill="#000"/>
<line x1="1374.2" y1="300.5" x2="1513" y2="300.5" stroke="#000000" stroke-width="2.6"/>
<line x1="1377" y1="303.3" x2="1513" y2="303.3" stroke="#d8c8c8" stroke-width="2.4"/>
<text x="1524" y="320.6" class="leg">0M</text>
<line x1="1374.2" y1="376.0" x2="1513" y2="376.0" stroke="#ff0000" stroke-width="4.5"/>
<text x="1524" y="394.3" class="leg">2M</text>
<line x1="1374.2" y1="449.5" x2="1513" y2="449.5" stroke="#0000ff" stroke-width="3.5"/>
<text x="1524" y="468.6" class="leg">5M</text>
<line x1="1374.2" y1="523.0" x2="1513" y2="523.0" stroke="#008080" stroke-width="4.5"/>
<text x="1527" y="540.5" class="leg" textLength="109" lengthAdjust="spacingAndGlyphs">10M</text>
<line x1="1374.2" y1="597.0" x2="1513" y2="597.0" stroke="#ff00ff" stroke-width="3.5"/>
<text x="1527" y="614.8" class="leg" textLength="109" lengthAdjust="spacingAndGlyphs">15M</text>

<text class="title" x="1044" y="1478" text-anchor="middle" textLength="482" lengthAdjust="spacingAndGlyphs">Wavelength (nm)</text>
<text class="title" transform="translate(80,687.5) rotate(-90)" text-anchor="middle" textLength="504" lengthAdjust="spacingAndGlyphs">Absorbance (a.u.)</text>
</svg>
</body></html>
